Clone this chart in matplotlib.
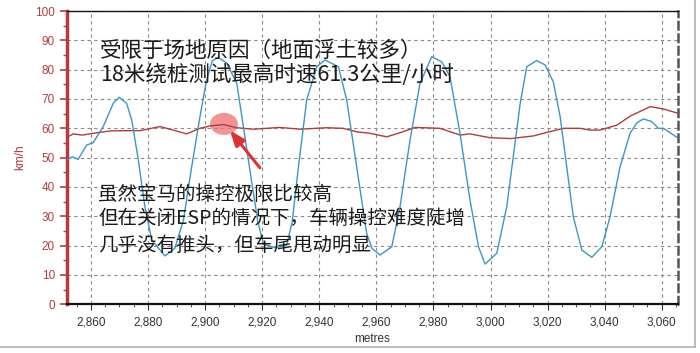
import matplotlib
matplotlib.use("Agg")
import matplotlib.pyplot as plt
from matplotlib.patches import Ellipse
from matplotlib.lines import Line2D
from matplotlib.ticker import MultipleLocator, FuncFormatter

# distance (m) and vehicle speed (km/h) - red trace
speed_x = [2851.5, 2853.8, 2857.0, 2860.8, 2866.7, 2872.5, 2877.2, 2884.2, 2888.8,
           2893.5, 2898.2, 2901.7, 2906.4, 2911.1, 2916.9, 2926.2, 2933.3, 2942.6,
           2948.4, 2953.1, 2957.8, 2963.6, 2968.3, 2973.6, 2982.3, 2989.3, 2992.8,
           2999.8, 3007.0, 3015.0, 3019.7, 3025.6, 3031.4, 3034.9, 3038.4, 3044.3,
           3049.0, 3056.0, 3060.6, 3065.8]
speed_y = [56.9, 58.1, 57.7, 58.3, 59.1, 59.2, 59.2, 60.6, 59.4,
           58.1, 60.0, 60.8, 61.3, 60.2, 59.7, 60.3, 59.7, 60.2,
           60.0, 58.8, 58.3, 57.1, 58.5, 60.3, 60.0, 57.7, 58.1,
           56.8, 56.5, 57.4, 58.6, 60.0, 60.0, 59.4, 59.4, 61.1,
           64.2, 67.4, 66.6, 65.1]

# blue trace (oscillating channel)
osc_x = [2851.5, 2853.5, 2855.5, 2858.5, 2860.8, 2864.3, 2867.8, 2869.9, 2872.5,
         2874.3, 2876.6, 2878.9, 2881.3, 2885.9, 2889.4, 2892.4, 2895.3, 2898.2,
         2900.5, 2902.5, 2904.6, 2907.6, 2911.1, 2913.4, 2916.4, 2918.5, 2920.5,
         2924.5, 2928.5, 2930.5, 2932.7, 2935.6, 2939.1, 2942.0, 2946.7, 2949.6,
         2953.1, 2956.6, 2958.5, 2961.3, 2965.4, 2968.3, 2971.8, 2975.3, 2979.4,
         2982.9, 2985.8, 2989.3, 2992.8, 2995.8, 2998.1, 3002.2, 3005.7, 3008.6,
         3010.4, 3012.7, 3016.2, 3019.1, 3022.0, 3024.4, 3026.7, 3029.0, 3032.0,
         3035.5, 3039.0, 3041.9, 3045.4, 3048.9, 3051.3, 3053.6, 3056.5, 3058.8,
         3060.6, 3065.8]
osc_y = [49.2, 50.3, 49.4, 54.3, 55.1, 60.6, 68.5, 70.6, 68.5,
         62.8, 49.2, 33.3, 21.9, 16.5, 19.1, 28.7, 46.9, 64.0,
         76.5, 83.0, 84.2, 82.2, 75.3, 60.6, 41.2, 28.0, 20.5,
         19.3, 20.0, 28.0, 46.9, 69.7, 81.0, 83.3, 81.0, 69.7,
         46.9, 24.2, 19.0, 16.8, 19.6, 33.3, 56.0, 75.3, 84.4,
         82.7, 77.6, 58.3, 35.6, 19.6, 13.7, 17.4, 33.3, 55.0,
         68.5, 81.0, 83.1, 81.6, 75.9, 64.0, 46.9, 29.9, 18.5,
         16.0, 19.6, 29.9, 46.9, 58.3, 61.9, 63.2, 62.3, 60.0,
         60.0, 56.6]

x_ticks = [2860, 2880, 2900, 2920, 2940, 2960, 2980, 3000, 3020, 3040, 3060]
y_ticks = [0, 10, 20, 30, 40, 50, 60, 70, 80, 90, 100]

note_top = ["受限于场地原因（地面浮土较多）", "18米绕桩测试最高时速61.3公里/小时"]
note_bottom = ["虽然宝马的操控极限比较高",
               "但在关闭ESP的情况下，车辆操控难度陡增",
               "几乎没有推头，但车尾甩动明显"]

red = "#b23b3b"
blue = "#3d95c6"
cjk = ["Noto Sans CJK SC", "DejaVu Sans"]

fig = plt.figure(figsize=(7, 3.53), dpi=100)
ax = fig.add_axes([66.7 / 700, 1 - 304.3 / 353, 611.6 / 700, 293.3 / 353])

ax.plot(speed_x, speed_y, color=red, lw=1.0, zorder=3)
ax.plot(osc_x, osc_y, color=blue, lw=1.0, zorder=3)

ax.set_xlim(2851.5, 3065.8)
ax.set_ylim(0, 100)
ax.set_xticks(x_ticks)
ax.set_yticks(y_ticks)
ax.xaxis.set_minor_locator(MultipleLocator(5))
ax.yaxis.set_minor_locator(MultipleLocator(5))
ax.xaxis.set_major_formatter(FuncFormatter(lambda v, p: "{:,.0f}".format(v)))

ax.grid(True, which="major", color="#8a8a8a", ls=(0, (3, 3)), lw=0.8)
ax.set_axisbelow(True)

ax.tick_params(axis="x", which="major", length=4, color="#333333", labelsize=8.5,
               labelcolor="#333333", pad=5)
ax.tick_params(axis="x", which="minor", length=2, color="#333333")
ax.tick_params(axis="y", which="major", length=5, color=red, labelsize=8.5,
               labelcolor=red, width=1.2)
ax.tick_params(axis="y", which="minor", length=3, color=red, width=1.0)
for lab in ax.get_xticklabels() + ax.get_yticklabels():
    lab.set_family("Liberation Sans")

ax.spines["left"].set_color(red)
ax.spines["left"].set_linewidth(2.5)
ax.spines["top"].set_color("#111111")
ax.spines["top"].set_linewidth(1.0)
ax.spines["bottom"].set_color("#111111")
ax.spines["bottom"].set_linewidth(1.6)
ax.spines["right"].set_color("#555555")
ax.spines["right"].set_linewidth(1.8)
ax.spines["right"].set_linestyle((0, (3, 2)))

ax.set_xlabel("metres", fontsize=8.5, color="#333333", family="Liberation Sans", labelpad=3)
ax.set_ylabel("km/h", fontsize=8.5, color=red, family="Liberation Sans", labelpad=6)

# highlight of the top speed point
ax.add_patch(Ellipse((2906.6, 61.5), 9.8, 7.5, color="#f07070", alpha=0.75, lw=0, zorder=2))
ax.annotate("", xy=(2908.1, 60.0), xytext=(2919.8, 45.8),
            arrowprops=dict(arrowstyle="-|>,head_length=0.9,head_width=0.35",
                            color="#e03030", lw=2.2), zorder=4)

for txt, yy in zip(note_top, [86.3, 78.2]):
    ax.text(2863.2, yy, txt, fontsize=15.5, family=cjk, weight="medium",
            color="#1a1a1a", va="center", ha="left", zorder=5)
for txt, yy in zip(note_bottom, [37.3, 29.3, 20.2]):
    ax.text(2862.6, yy, txt, fontsize=14, family=cjk, weight="medium",
            color="#1a1a1a", va="center", ha="left", zorder=5)

# window frame of the screenshot
fig.add_artist(Line2D([0, 695 / 700], [1 - 347 / 353] * 2, color="#b0b0b0", lw=1.2))
fig.add_artist(Line2D([695 / 700] * 2, [1 - 347 / 353, 1], color="#b0b0b0", lw=1.2))

fig.savefig("out.png", dpi=100)
